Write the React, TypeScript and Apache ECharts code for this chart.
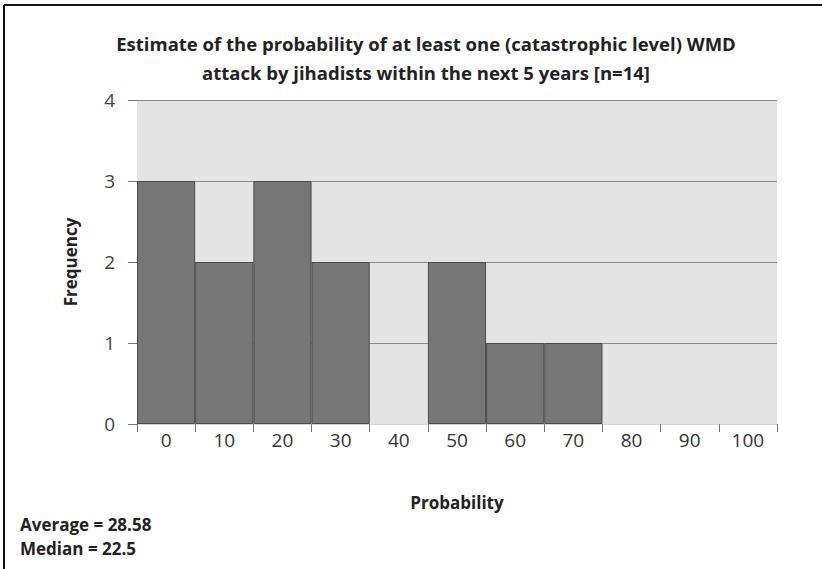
import React, { useEffect, useRef } from "react";
import * as echarts from "echarts";

const categories = ["0", "10", "20", "30", "40", "50", "60", "70", "80", "90", "100"];
const frequency = [3, 2, 3, 2, 0, 2, 1, 1, 0, 0, 0];
const titleText = "Estimate of the probability of at least one (catastrophic level) WMD\nattack by jihadists within the next 5 years [n=14]";
const statLines = ["Average = 28.58", "Median = 22.5"];

export default function App() {
  const ref = useRef<HTMLDivElement>(null);
  useEffect(() => {
    if (!ref.current) return;
    const chart = echarts.init(ref.current, null, { renderer: "svg" });
    const font = "'Open Sans', 'Noto Sans', sans-serif";
    chart.setOption({
      animation: false,
      backgroundColor: "#ffffff",
      title: {
        text: titleText,
        left: 421,
        textAlign: "center",
        top: 24,
        textStyle: { fontFamily: font, fontSize: 18.5, fontWeight: "bold", color: "#222", lineHeight: 29 },
      },
      grid: {
        left: 137,
        right: 45,
        top: 100,
        bottom: 145,
        show: true,
        backgroundColor: "#e4e4e4",
        borderWidth: 0,
      },
      xAxis: {
        type: "category",
        data: categories,
        boundaryGap: true,
        name: "Probability",
        nameLocation: "middle",
        nameGap: 70,
        nameTextStyle: { fontFamily: font, fontSize: 17, fontWeight: "bold", color: "#222" },
        axisLine: { show: true, lineStyle: { color: "#d6d6d6", width: 1 } },
        axisTick: { show: true, alignWithLabel: false, length: 8, lineStyle: { color: "#777" } },
        axisLabel: { fontFamily: font, fontSize: 19, color: "#333", margin: 6 },
        splitLine: { show: false },
      },
      yAxis: {
        type: "value",
        min: 0,
        max: 4,
        interval: 1,
        name: "Frequency",
        nameLocation: "middle",
        nameGap: 58,
        nameRotate: 90,
        nameTextStyle: { fontFamily: font, fontSize: 17, fontWeight: "bold", color: "#222" },
        axisLine: { show: false },
        axisTick: { show: true, length: 9, lineStyle: { color: "#777" } },
        axisLabel: { fontFamily: font, fontSize: 19, color: "#444", margin: 22 },
        splitLine: { show: true, lineStyle: { color: "#8a8a8a", width: 1.2 } },
      },
      series: [
        {
          type: "bar",
          data: frequency.map((v) => (v === 0 ? null : v)),
          barCategoryGap: "0%",
          itemStyle: { color: "#767676", borderColor: "#4a4a4a", borderWidth: 1 },
        },
      ],
      graphic: [
        {
          type: "line",
          shape: { x1: 4, y1: 5, x2: 822, y2: 5 },
          style: { stroke: "#111", lineWidth: 2 },
        },
        {
          type: "line",
          shape: { x1: 4, y1: 5, x2: 4, y2: 569 },
          style: { stroke: "#111", lineWidth: 2 },
        },
        {
          type: "text",
          left: 20,
          top: 512,
          style: {
            text: statLines.join("\n"),
            font: `bold 17px ${font}`,
            fill: "#222",
            lineHeight: 24,
          },
        },
      ],
    });
    return () => chart.dispose();
  }, []);
  return (
    <div
      ref={ref}
      style={{ position: "absolute", left: 0, top: 0, width: 822, height: 569 }}
    />
  );
}
